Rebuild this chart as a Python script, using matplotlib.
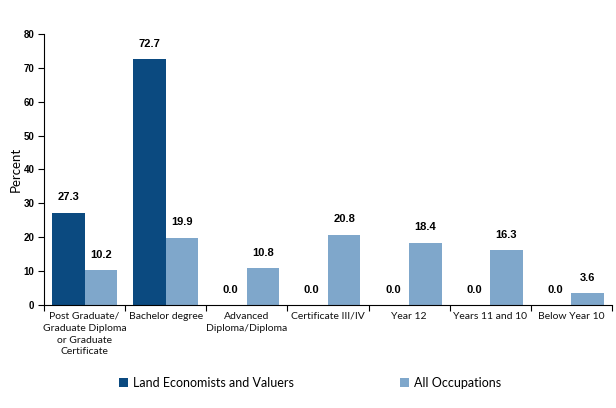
import matplotlib
matplotlib.use("Agg")
import matplotlib.pyplot as plt
import numpy as np

categories = ["Post Graduate/\nGraduate Diploma\nor Graduate\nCertificate", "Bachelor degree",
              "Advanced\nDiploma/Diploma", "Certificate III/IV", "Year 12",
              "Years 11 and 10", "Below Year 10"]
land_values = [27.3, 72.7, 0.0, 0.0, 0.0, 0.0, 0.0]
all_values = [10.2, 19.9, 10.8, 20.8, 18.4, 16.3, 3.6]
series_names = ["Land Economists and Valuers", "All Occupations"]

dark = "#0B4A80"
light = "#7FA7CB"

fig = plt.figure(figsize=(6.16, 4.08), dpi=100)
ax = fig.add_axes([0.0714, 0.2525, 0.922, 0.6642])

x = np.arange(len(categories))
w = 0.4
b1 = ax.bar(x - w / 2, land_values, w, color=dark, label=series_names[0])
b2 = ax.bar(x + w / 2, all_values, w, color=light, label=series_names[1])

narrow = ["Liberation Sans Narrow", "Liberation Sans"]
for bars, vals in [(b1, land_values), (b2, all_values)]:
    for r, v in zip(bars, vals):
        ax.text(r.get_x() + r.get_width() / 2, v + 3, "%.1f" % v, ha="center", va="bottom",
                fontsize=8, fontweight="bold", family=narrow)

ax.set_xlim(-0.5, len(categories) - 0.5)
ax.set_ylim(0, 80)
ax.set_yticks(range(0, 81, 10))
ax.set_yticklabels([str(t) for t in range(0, 81, 10)], fontsize=7, fontweight="bold", family=narrow)
ax.set_xticks(np.arange(len(categories) + 1) - 0.5, minor=False)
ax.set_xticklabels([])
ax.set_xticks(x, minor=True)
ax.set_xticklabels(categories, minor=True, fontsize=7.5, family="Lato", linespacing=1.4, va="top",
                   color="#111111")
ax.tick_params(axis="x", which="minor", length=0, pad=5)
ax.tick_params(axis="x", which="major", length=4, direction="out")
ax.tick_params(axis="y", length=4, direction="out", pad=3)
ax.set_ylabel("Percent", fontsize=9.5, family="Lato", labelpad=1)
for s in ["top", "right"]:
    ax.spines[s].set_visible(False)

fig.legend(handles=[b1, b2], labels=series_names, loc="lower left", bbox_to_anchor=(0.175, 0.02),
           ncol=2, frameon=False, prop={"family": "Lato", "size": 9}, handlelength=0.7,
           handleheight=0.7, columnspacing=8.5, handletextpad=0.4)

fig.savefig("out.png", dpi=100)
